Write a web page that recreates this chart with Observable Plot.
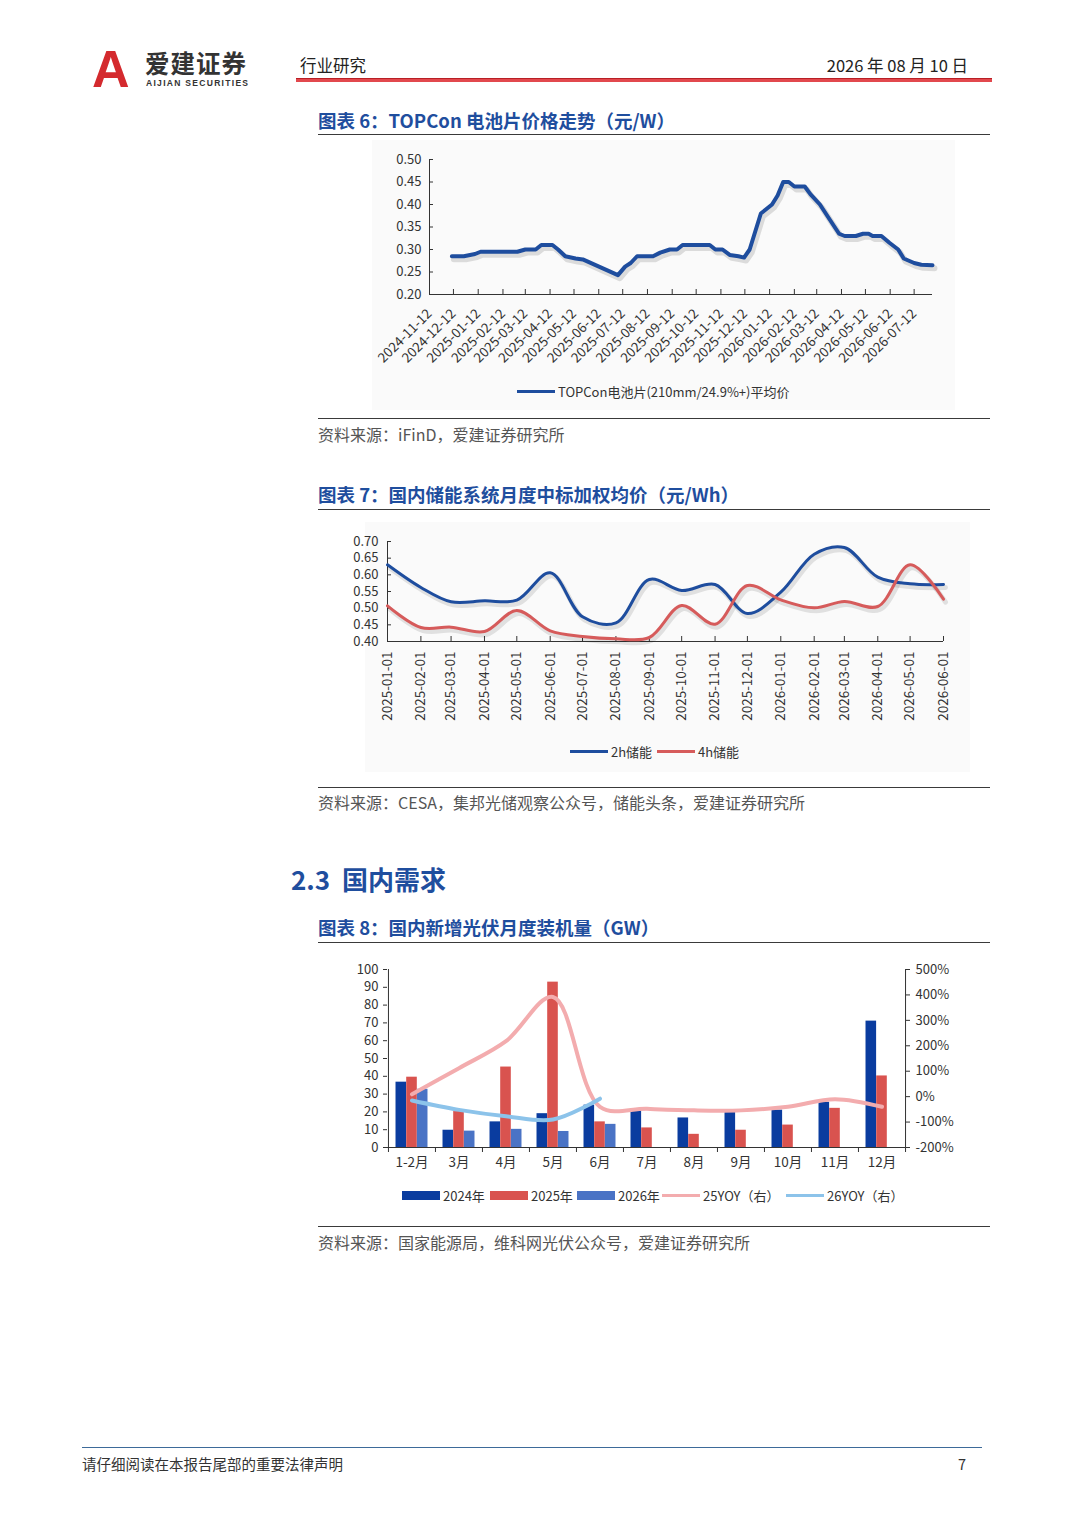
<!DOCTYPE html>
<html><head><meta charset="utf-8">
<script src="https://cdn.jsdelivr.net/npm/d3@7"></script>
<script src="https://cdn.jsdelivr.net/npm/@observablehq/plot@0.6"></script>
<style>
html,body{margin:0;padding:0;background:#fff;}
#page{position:relative;width:1080px;height:1527px;overflow:hidden;font-family:"Noto Sans CJK SC","Noto Sans",sans-serif;color:#222;}
.abs{position:absolute;white-space:nowrap;line-height:1;}
.title{font-size:18.5px;font-weight:700;color:#1F4E9E;}
.hr{position:absolute;height:0;border-top:1.5px solid #3a3a3a;}
.src{font-size:16px;color:#555;}
.lg{position:absolute;display:flex;align-items:center;font-size:13px;line-height:1;color:#333;white-space:nowrap;}
.swl{display:inline-block;width:38px;height:3px;margin-right:3px;}
.swb{display:inline-block;width:38px;height:9px;margin-right:3px;}
.chart{position:absolute;}
</style></head>
<body><div id="page">
  <!-- header -->
  <div class="abs" style="left:92px;top:43px;font-family:'Liberation Sans';font-weight:700;font-size:52px;color:#D42A2E;">A</div>
  <div class="abs" style="left:145px;top:51px;font-size:24.5px;font-weight:700;color:#333;letter-spacing:1px;">爱建证券</div>
  <div class="abs" style="left:146px;top:79px;font-family:'Liberation Sans';font-size:8.5px;font-weight:700;letter-spacing:1.3px;color:#333;">AIJIAN SECURITIES</div>
  <div class="abs" style="left:300px;top:57px;font-size:16.5px;color:#222;">行业研究</div>
  <div class="abs" style="right:112px;top:57px;font-size:16.5px;color:#222;">2026 年 08 月 10 日</div>
  <div style="position:absolute;left:296px;top:78px;width:696px;height:4px;background:linear-gradient(#B81F25 0 1.5px,#E2484D 1.5px);"></div>

  <!-- chart 6 -->
  <div class="abs title" style="left:318px;top:111px;">图表 6：TOPCon 电池片价格走势（元/W）</div>
  <div class="hr" style="left:318px;top:134px;width:672px;"></div>
  <div style="position:absolute;left:372px;top:140px;width:583px;height:270px;background:#fafafa;"></div>
  <div class="chart" id="c6" style="left:360px;top:140px;"></div>
  <div class="lg" style="left:517px;top:385px;"><span class="swl" style="background:#1E4D9E"></span>TOPCon电池片(210mm/24.9%+)平均价</div>
  <div class="hr" style="left:318px;top:418px;width:672px;"></div>
  <div class="abs src" style="left:318px;top:426px;">资料来源：iFinD，爱建证券研究所</div>

  <!-- chart 7 -->
  <div class="abs title" style="left:318px;top:485px;">图表 7：国内储能系统月度中标加权均价（元/Wh）</div>
  <div class="hr" style="left:318px;top:509px;width:672px;"></div>
  <div style="position:absolute;left:365px;top:522px;width:605px;height:250px;background:#fafafa;"></div>
  <div class="chart" id="c7" style="left:340px;top:525px;"></div>
  <div class="lg" style="left:570px;top:745px;"><span class="swl" style="background:#1E4D9E"></span>2h储能</div>
  <div class="lg" style="left:657px;top:745px;"><span class="swl" style="background:#D65B5B"></span>4h储能</div>
  <div class="hr" style="left:318px;top:787px;width:672px;"></div>
  <div class="abs src" style="left:318px;top:794px;">资料来源：CESA，集邦光储观察公众号，储能头条，爱建证券研究所</div>

  <!-- section -->
  <div class="abs" style="left:291px;top:866px;font-size:26px;font-weight:700;color:#1F4E9E;">2.3&nbsp; 国内需求</div>

  <!-- chart 8 -->
  <div class="abs title" style="left:318px;top:918px;">图表 8：国内新增光伏月度装机量（GW）</div>
  <div class="hr" style="left:318px;top:942px;width:672px;"></div>
  <div class="chart" id="c8" style="left:340px;top:955px;"></div>
  <div class="lg" style="left:402px;top:1189px;"><span class="swb" style="background:#0A3C9F"></span>2024年</div>
  <div class="lg" style="left:490px;top:1189px;"><span class="swb" style="background:#D9534F"></span>2025年</div>
  <div class="lg" style="left:577px;top:1189px;"><span class="swb" style="background:#4A73C5"></span>2026年</div>
  <div class="lg" style="left:662px;top:1189px;"><span class="swl" style="background:#F3ACAE"></span>25YOY（右）</div>
  <div class="lg" style="left:786px;top:1189px;"><span class="swl" style="background:#8CC3EA"></span>26YOY（右）</div>
  <div class="hr" style="left:318px;top:1226px;width:672px;"></div>
  <div class="abs src" style="left:318px;top:1234px;">资料来源：国家能源局，维科网光伏公众号，爱建证券研究所</div>

  <!-- footer -->
  <div style="position:absolute;left:82px;top:1447px;width:900px;height:0;border-top:1.5px solid #3D6A99;"></div>
  <div class="abs" style="left:82px;top:1457px;font-size:14.5px;color:#333;">请仔细阅读在本报告尾部的重要法律声明</div>
  <div class="abs" style="left:958px;top:1457px;font-size:14.5px;color:#333;">7</div>
</div>
<script>
const font = '"Noto Sans CJK SC","Noto Sans",sans-serif';
const parse = d3.utcParse("%Y-%m-%d");

// ---------- Chart 6: TOPCon cell price ----------
const topconDates = ["2024-12-10","2024-12-25","2025-01-08","2025-01-15","2025-03-02","2025-03-12","2025-03-25","2025-04-01","2025-04-15","2025-04-22","2025-05-01","2025-05-14","2025-05-23","2025-07-06","2025-07-15","2025-07-22","2025-07-30","2025-08-19","2025-08-28","2025-09-09","2025-09-18","2025-09-25","2025-10-29","2025-11-05","2025-11-14","2025-11-23","2025-12-04","2025-12-11","2025-12-18","2026-01-01","2026-01-15","2026-01-22","2026-01-29","2026-02-05","2026-02-12","2026-02-25","2026-03-04","2026-03-16","2026-03-27","2026-04-09","2026-04-16","2026-04-30","2026-05-09","2026-05-16","2026-05-21","2026-06-01","2026-06-11","2026-06-22","2026-06-29","2026-07-12","2026-07-21","2026-08-04"];
const topconPrice = [0.285,0.285,0.29,0.295,0.295,0.30,0.30,0.31,0.31,0.30,0.285,0.28,0.278,0.243,0.262,0.27,0.285,0.285,0.293,0.30,0.30,0.31,0.31,0.30,0.30,0.288,0.285,0.282,0.30,0.38,0.40,0.42,0.45,0.45,0.44,0.44,0.423,0.40,0.37,0.335,0.33,0.33,0.335,0.335,0.33,0.33,0.315,0.30,0.28,0.27,0.266,0.265];
const topconTickLabels = ["2024-11-12","2024-12-12","2025-01-12","2025-02-12","2025-03-12","2025-04-12","2025-05-12","2025-06-12","2025-07-12","2025-08-12","2025-09-12","2025-10-12","2025-11-12","2025-12-12","2026-01-12","2026-02-12","2026-03-12","2026-04-12","2026-05-12","2026-06-12","2026-07-12"];
const topconYTicks = [0.20,0.25,0.30,0.35,0.40,0.45,0.50];
const topconXDomain = ["2024-11-12","2026-08-04"];

// ---------- Chart 7: storage system price ----------
const storageMonths = ["2025-01-01","2025-02-01","2025-03-01","2025-04-01","2025-05-01","2025-06-01","2025-07-01","2025-08-01","2025-09-01","2025-10-01","2025-11-01","2025-12-01","2026-01-01","2026-02-01","2026-03-01","2026-04-01","2026-05-01","2026-06-01"];
const price2h = [0.630,0.562,0.519,0.522,0.524,0.606,0.474,0.456,0.586,0.553,0.571,0.484,0.548,0.662,0.682,0.593,0.573,0.571];
const price4h = [0.507,0.442,0.443,0.430,0.493,0.432,0.415,0.408,0.412,0.508,0.452,0.568,0.525,0.501,0.520,0.505,0.630,0.527];
const storageYTicks = [0.40,0.45,0.50,0.55,0.60,0.65,0.70];

// ---------- Chart 8: PV installations ----------
const months = ["1-2月","3月","4月","5月","6月","7月","8月","9月","10月","11月","12月"];
const inst2024 = [36.7,9.7,14.4,19.0,23.8,21.1,16.6,20.1,21.0,25.4,71.0];
const inst2025 = [39.5,20.2,45.2,92.9,14.4,11.0,7.4,9.7,12.6,22.0,40.2];
const inst2026 = [32.7,9.2,10.2,9.0,13.0];
const yoy25 = [9,112,218,392,-40,-48,-54,-54,-40,-10,-40];
const yoy26 = [-15,-52,-77,-90,-8];
const leftTicks = [0,10,20,30,40,50,60,70,80,90,100];
const rightTicks = [-200,-100,0,100,200,300,400,500];

// ===== Chart 6 =====
{
  const data = topconDates.map((d, i) => ({date: parse(d), v: topconPrice[i]}));
  const xd = topconXDomain.map(parse);
  const ticks = topconTickLabels.map(parse);
  const p = Plot.plot({
    width: 590, height: 240,
    marginLeft: 69, marginRight: 18, marginTop: 19, marginBottom: 86,
    style: {fontFamily: font, fontSize: "13px", color: "#333", background: "transparent", overflow: "visible"},
    x: {type: "utc", domain: xd},
    y: {domain: [0.20, 0.50]},
    marks: [
      Plot.axisY({ticks: topconYTicks, tickFormat: d3.format(".2f"), tickSize: 0, tickPadding: 8, fontSize: 13, label: null}),
      Plot.axisY({ticks: topconYTicks, tickSize: 4, dx: 4, fill: "none", label: null}),
      Plot.axisX({ticks, tickFormat: d3.utcFormat("%Y-%m-%d"), tickRotate: -45, tickSize: 0, tickPadding: 17, fontSize: 13.5, label: null}),
      Plot.axisX({ticks, tickSize: 5, dy: -5, fill: "none", label: null}),
      Plot.ruleX([xd[0]], {stroke: "#333"}),
      Plot.ruleY([0.20], {stroke: "#333"}),
      Plot.line(data, {x: "date", y: "v", stroke: "#000", strokeOpacity: 0.12, strokeWidth: 6, dx: 2, dy: 3}),
      Plot.line(data, {x: "date", y: "v", stroke: "#1E4D9E", strokeWidth: 4})
    ]
  });
  document.getElementById("c6").append(p);
}

// ===== Chart 7 =====
{
  const dates = storageMonths.map(parse);
  const s2 = dates.map((d, i) => ({date: d, v: price2h[i]}));
  const s4 = dates.map((d, i) => ({date: d, v: price4h[i]}));
  const p = Plot.plot({
    width: 620, height: 205,
    marginLeft: 47, marginRight: 17, marginTop: 16, marginBottom: 89,
    style: {fontFamily: font, fontSize: "13px", color: "#333", background: "transparent", overflow: "visible"},
    x: {type: "utc", domain: [dates[0], dates[dates.length - 1]]},
    y: {domain: [0.40, 0.70]},
    marks: [
      Plot.axisY({ticks: storageYTicks, tickFormat: d3.format(".2f"), tickSize: 0, tickPadding: 9, fontSize: 13, label: null}),
      Plot.axisY({ticks: storageYTicks, tickSize: 4, dx: 4, fill: "none", label: null}),
      Plot.axisX({ticks: dates, tickFormat: d3.utcFormat("%Y-%m-%d"), tickRotate: -90, tickSize: 0, tickPadding: 10, fontSize: 13.5, label: null}),
      Plot.axisX({ticks: dates, tickSize: 5, dy: -5, fill: "none", label: null}),
      Plot.ruleX([dates[0]], {stroke: "#333"}),
      Plot.ruleY([0.40], {stroke: "#333"}),
      Plot.line(s2, {x: "date", y: "v", curve: "catmull-rom", stroke: "#000", strokeOpacity: 0.1, strokeWidth: 5, dx: 2, dy: 3}),
      Plot.line(s4, {x: "date", y: "v", curve: "catmull-rom", stroke: "#000", strokeOpacity: 0.1, strokeWidth: 5, dx: 2, dy: 3}),
      Plot.line(s2, {x: "date", y: "v", curve: "catmull-rom", stroke: "#1E4D9E", strokeWidth: 3}),
      Plot.line(s4, {x: "date", y: "v", curve: "catmull-rom", stroke: "#D65B5B", strokeWidth: 3})
    ]
  });
  document.getElementById("c7").append(p);
}

// ===== Chart 8 =====
{
  const W = 620, ML = 47, MR = 55;
  const bw = (W - ML - MR) / months.length;
  const barW = bw * 0.227;
  const toLeft = v => (v + 200) / 7;
  const b24 = months.map((m, i) => ({m, v: inst2024[i]}));
  const b25 = months.map((m, i) => ({m, v: inst2025[i]}));
  const b26 = inst2026.map((v, i) => ({m: months[i], v}));
  const l25 = yoy25.map((v, i) => ({m: months[i], v: toLeft(v)}));
  const l26 = yoy26.map((v, i) => ({m: months[i], v: toLeft(v)}));
  const half = bw / 2;
  const p = Plot.plot({
    width: W, height: 225,
    marginLeft: ML, marginRight: MR, marginTop: 14, marginBottom: 33,
    style: {fontFamily: font, fontSize: "13px", color: "#333", background: "transparent", overflow: "visible"},
    x: {type: "band", domain: months, padding: 0},
    y: {domain: [0, 100]},
    marks: [
      Plot.axisY({ticks: leftTicks, tickSize: 4, tickPadding: 5, label: null}),
      Plot.axisY({anchor: "right", ticks: rightTicks.map(toLeft), tickFormat: v => Math.round(v * 7 - 200) + "%", tickSize: 4, tickPadding: 6, label: null}),
      Plot.axisX({tickSize: 0, tickPadding: 10, label: null, fontSize: 13.5}),
      Plot.barY(b24, {x: "m", y: "v", fill: "#0A3C9F", insetLeft: half - 1.5 * barW, insetRight: half + 0.5 * barW}),
      Plot.barY(b25, {x: "m", y: "v", fill: "#D9534F", insetLeft: half - 0.5 * barW, insetRight: half - 0.5 * barW}),
      Plot.barY(b26, {x: "m", y: "v", fill: "#4A73C5", insetLeft: half + 0.5 * barW, insetRight: half - 1.5 * barW}),
      Plot.ruleY([0], {stroke: "#333"}),
      Plot.ruleX([months[0]], {dx: -half, stroke: "#333"}),
      Plot.ruleX([months[months.length - 1]], {dx: half, stroke: "#333"}),
      Plot.ruleX(months, {y1: 0, y2: 0, insetBottom: -5, dx: -half, stroke: "#333"}),
      Plot.ruleX([months[months.length - 1]], {y1: 0, y2: 0, insetBottom: -5, dx: half, stroke: "#333"}),
      Plot.line(l25, {x: "m", y: "v", curve: "catmull-rom", stroke: "#F3ACAE", strokeWidth: 4}),
      Plot.line(l26, {x: "m", y: "v", curve: "catmull-rom", stroke: "#8CC3EA", strokeWidth: 4})
    ]
  });
  document.getElementById("c8").append(p);
}
</script>
</body></html>
